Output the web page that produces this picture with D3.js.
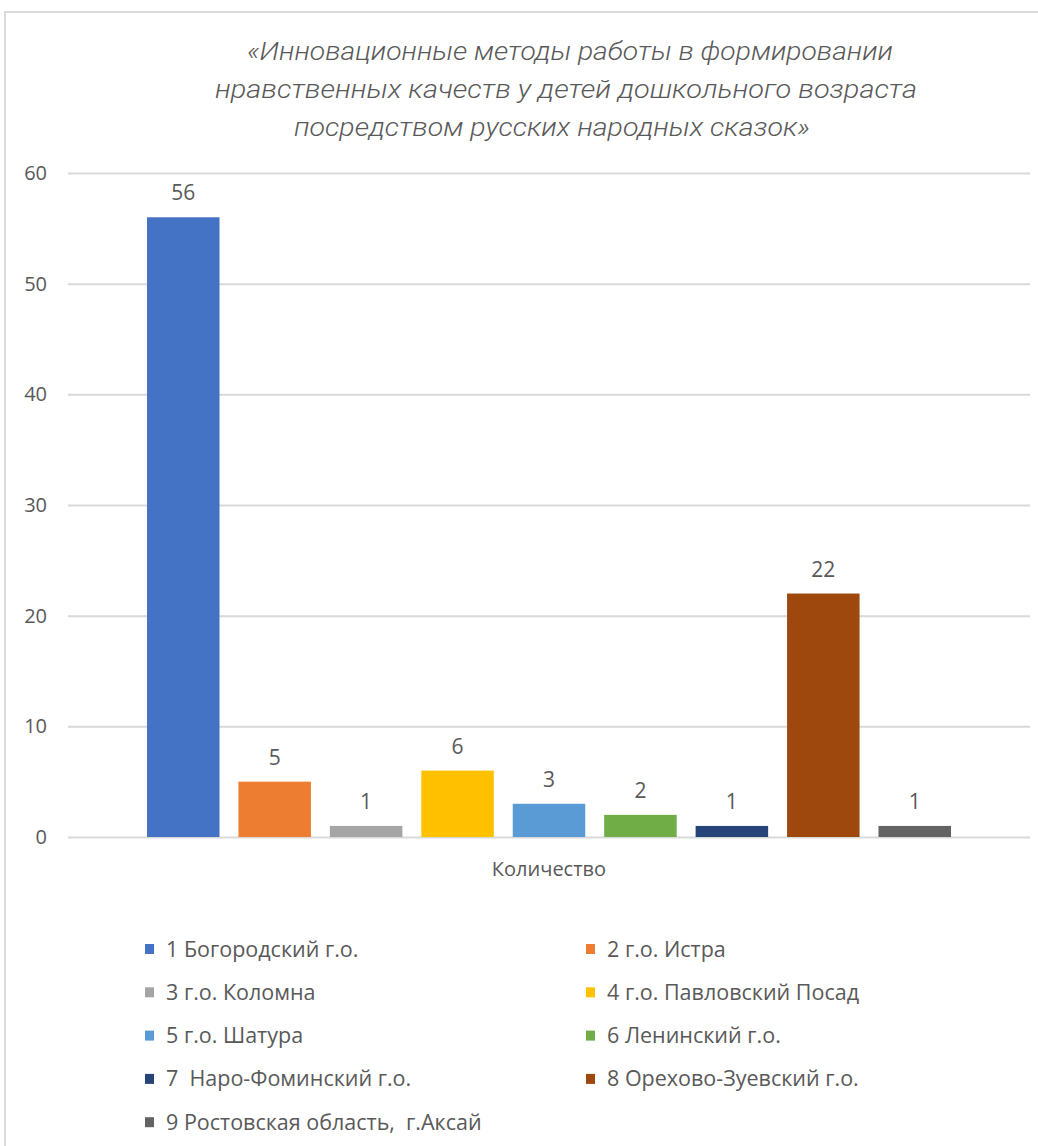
<!DOCTYPE html>
<html>
<head>
<meta charset="utf-8">
<script src="https://cdn.jsdelivr.net/npm/d3@7"></script>
<style>
  body { margin: 0; background: #fff; }
  svg { display: block; }
</style>
</head>
<body>
<svg width="1038" height="1146"></svg>
<script>
// data van de grafiek
const titleLines = [
    '«Инновационные методы работы в формировании',
    'нравственных качеств у детей дошкольного возраста',
    'посредством русских народных сказок»'
]
const categoryLabel = 'Количество'
const seriesNames = [
    '1 Богородский г.о.',
    '2 г.о. Истра',
    '3 г.о. Коломна',
    '4 г.о. Павловский Посад',
    '5 г.о. Шатура',
    '6 Ленинский г.о.',
    '7  Наро-Фоминский г.о.',
    '8 Орехово-Зуевский г.о.',
    '9 Ростовская область,  г.Аксай'
]
const seriesValues = [56, 5, 1, 6, 3, 2, 1, 22, 1]
const seriesColors = ['#4472C4', '#ED7D31', '#A5A5A5', '#FFC000', '#5B9BD5', '#70AD47', '#264478', '#9E480E', '#636363']
const yTicks = [0, 10, 20, 30, 40, 50, 60]

const svg = d3.select('svg')
const width = +svg.attr('width')
const height = +svg.attr('height')

const textColor = '#595959'
const titleFont = 'Roboto, "Liberation Sans Narrow", sans-serif'
const numFont = '"Open Sans", "Noto Sans", sans-serif'

// kader rond de grafiek (alleen links en boven zichtbaar)
svg.append('path')
    .attr('d', `M5,${height} L5,12 L${width},12`)
    .attr('fill', 'none')
    .attr('stroke', '#d9d9d9')
    .attr('stroke-width', 2)

// titel
const titleWidths = [646, 702, 516]
const titleCenters = [570, 566, 552]
svg.append('g').selectAll('text').data(titleLines)
    .enter().append('text')
    .attr('x', (d, i) => titleCenters[i])
    .attr('y', (d, i) => 60 + i * 38)
    .attr('text-anchor', 'middle')
    .attr('textLength', (d, i) => titleWidths[i])
    .attr('lengthAdjust', 'spacingAndGlyphs')
    .style('font-family', titleFont)
    .style('font-style', 'italic')
    .style('font-weight', 300)
    .style('font-size', '25px')
    .style('fill', textColor)
    .text(d => d)

const margin = {top: 173, left: 68, right: 8, bottom: 309}
const innerWidth = width - margin.left - margin.right
const innerHeight = height - margin.top - margin.bottom

const g = svg.append('g')
    .attr('transform', `translate(${margin.left}, ${margin.top})`)

const yScale = d3.scaleLinear()
    .domain([0, 60])
    .range([innerHeight, 0])

const xScale = d3.scaleBand()
    .domain(seriesNames)
    .range([0, innerWidth])
    .paddingInner(0.207)
    .paddingOuter(0.864)

// rasterlijnen
const yAxis = d3.axisLeft(yScale)
    .tickValues(yTicks)
    .tickSize(-innerWidth)
    .tickPadding(21)

const yAxisG = g.append('g').call(yAxis)
yAxisG.select('.domain').remove()
yAxisG.selectAll('line').attr('stroke', '#d9d9d9').attr('stroke-width', 2)
yAxisG.selectAll('text')
    .style('font-family', numFont)
    .style('font-size', '20px')
    .style('fill', textColor)

// bars
g.selectAll('rect.bar').data(seriesValues)
    .enter().append('rect')
    .attr('class', 'bar')
    .attr('x', (d, i) => xScale(seriesNames[i]))
    .attr('y', d => yScale(d))
    .attr('width', xScale.bandwidth())
    .attr('height', d => innerHeight - yScale(d))
    .attr('fill', (d, i) => seriesColors[i])

// waardelabels
g.selectAll('text.value').data(seriesValues)
    .enter().append('text')
    .attr('class', 'value')
    .attr('x', (d, i) => xScale(seriesNames[i]) + xScale.bandwidth() / 2)
    .attr('y', d => yScale(d) - 17)
    .attr('text-anchor', 'middle')
    .style('font-family', numFont)
    .style('font-size', '21px')
    .style('fill', textColor)
    .text(d => d)

// categorie label
svg.append('text')
    .attr('x', 549)
    .attr('y', 876)
    .attr('text-anchor', 'middle')
    .style('font-family', numFont)
    .style('font-size', '20px')
    .style('fill', textColor)
    .text(categoryLabel)

// legenda
const legend = svg.append('g')
const legendItems = legend.selectAll('g').data(seriesNames)
    .enter().append('g')
    .attr('transform', (d, i) => `translate(${i % 2 === 0 ? 145 : 586}, ${949 + Math.floor(i / 2) * 43.3})`)

legendItems.append('rect')
    .attr('x', 0).attr('y', -5)
    .attr('width', 9).attr('height', 10)
    .attr('fill', (d, i) => seriesColors[i])

legendItems.append('text')
    .attr('x', 21)
    .attr('y', 7.5)
    .style('font-family', numFont)
    .style('font-size', '21.5px')
    .style('fill', textColor)
    .style('white-space', 'pre')
    .text(d => d)
</script>
</body>
</html>
